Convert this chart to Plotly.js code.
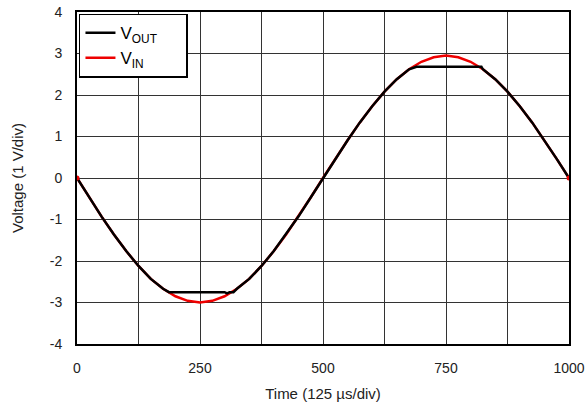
<!DOCTYPE html>
<html>
<head>
<meta charset="utf-8">
<script src="https://cdn.plot.ly/plotly-3.0.1.min.js"></script>
<style>html,body{margin:0;padding:0;background:#fff;}#chart{width:587px;height:412px;}</style>
</head>
<body>
<div id="chart"></div>
<script>
// Time in µs
const vinTime = [0,25,50,75,100,125,150,175,200,225,250,275,300,325,350,375,400,425,450,475,500,525,550,575,600,625,650,675,700,725,750,775,800,825,850,875,900,925,950,975,1000];
const vinVolts = [0,-0.47,-0.93,-1.36,-1.76,-2.12,-2.43,-2.67,-2.85,-2.96,-3.0,-2.96,-2.85,-2.67,-2.43,-2.12,-1.76,-1.36,-0.93,-0.47,0,0.46,0.91,1.34,1.73,2.08,2.38,2.62,2.80,2.91,2.95,2.91,2.80,2.62,2.38,2.08,1.73,1.34,0.91,0.46,0];
const voutTime = [0,25,50,75,100,125,150,175,187,250,300,305,310,318,325,350,375,400,425,450,475,500,525,550,575,600,625,650,675,690,750,822,825,850,875,900,925,950,975,1000];
const voutVolts = [0,-0.47,-0.93,-1.36,-1.76,-2.12,-2.43,-2.67,-2.75,-2.75,-2.75,-2.78,-2.75,-2.75,-2.67,-2.43,-2.12,-1.76,-1.36,-0.93,-0.47,0,0.46,0.91,1.34,1.73,2.08,2.38,2.62,2.68,2.68,2.68,2.62,2.38,2.08,1.73,1.34,0.91,0.46,0];
const xTickVals = [0,250,500,750,1000];
const xTickText = ['0','250','500','750','1000'];
const yTickVals = [-4,-3,-2,-1,0,1,2,3,4];
const yTickText = ['-4','-3','-2','-1','0','1','2','3','4'];

const traces = [
  {x: vinTime, y: vinVolts, name: 'V<sub>IN</sub>', mode: 'lines', line: {color: '#ee0000', width: 2.5}, legendrank: 2},
  {x: voutTime, y: voutVolts, name: 'V<sub>OUT</sub>\u00a0\u00a0\u00a0\u00a0\u00a0', mode: 'lines', line: {color: '#000000', width: 2.5}, legendrank: 1},
  {x: [vinTime[0], vinTime[vinTime.length-1]], y: [vinVolts[0], vinVolts[vinVolts.length-1]], mode: 'markers', marker: {color: '#ee0000', size: 5}, showlegend: false, hoverinfo: 'skip'}
];

const font = {family: 'Liberation Sans, Arial, sans-serif', color: '#222', size: 14};
const titleFont = {family: 'Liberation Sans, Arial, sans-serif', color: '#222', size: 15};
const layout = {
  width: 587, height: 412,
  margin: {l: 77, r: 18, t: 12, b: 68},
  paper_bgcolor: '#fff', plot_bgcolor: '#fff',
  font: font,
  showlegend: true,
  legend: {x: 0.004, y: 0.995, xanchor: 'left', yanchor: 'top', bgcolor: '#fff', bordercolor: '#000', borderwidth: 1.5,
           font: {family: 'Liberation Sans, Arial, sans-serif', size: 17, color: '#000'}, tracegroupgap: 0},
  xaxis: {
    range: [0, 1000], tickvals: xTickVals, ticktext: xTickText,
    showgrid: true, gridcolor: '#333', gridwidth: 1,
    minor: {tickvals: [125,375,625,875], showgrid: true, gridcolor: '#333', gridwidth: 1},
    showline: true, linecolor: '#000', linewidth: 2, mirror: true,
    ticks: 'outside', ticklen: 10, tickcolor: 'rgba(0,0,0,0)',
    zeroline: false,
    title: {text: 'Time (125 µs/div)', font: titleFont, standoff: 14}
  },
  yaxis: {
    range: [-4, 4], tickvals: yTickVals, ticktext: yTickText,
    showgrid: true, gridcolor: '#333', gridwidth: 1,
    showline: true, linecolor: '#000', linewidth: 2, mirror: true,
    ticks: 'outside', ticklen: 10, tickcolor: 'rgba(0,0,0,0)',
    zeroline: false,
    title: {text: 'Voltage (1 V/div)', font: titleFont, standoff: 22}
  }
};
Plotly.newPlot('chart', traces, layout, {displayModeBar: false, staticPlot: true});
</script>
</body>
</html>
